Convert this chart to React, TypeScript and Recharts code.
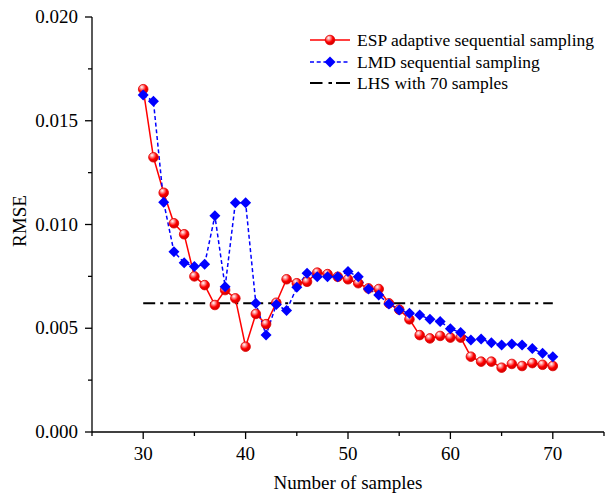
import React from 'react';
import { LineChart, Line, XAxis, YAxis } from 'recharts';

// number of samples (x) and RMSE values
const samples = [30, 31, 32, 33, 34, 35, 36, 37, 38, 39, 40, 41, 42, 43, 44, 45, 46, 47, 48, 49, 50,
  51, 52, 53, 54, 55, 56, 57, 58, 59, 60, 61, 62, 63, 64, 65, 66, 67, 68, 69, 70];

const espRmse = [0.01652, 0.01324, 0.01153, 0.01006, 0.00953, 0.0075, 0.00708, 0.00612, 0.00684, 0.00644,
  0.00411, 0.00569, 0.0052, 0.00623, 0.00736, 0.00717, 0.00724, 0.00768, 0.00761, 0.00748,
  0.00736, 0.00717, 0.00692, 0.00689, 0.0062, 0.0059, 0.00543, 0.00467, 0.00451, 0.00463,
  0.00455, 0.00455, 0.00363, 0.00339, 0.00339, 0.0031, 0.00328, 0.00318, 0.00332, 0.00324, 0.00318];

const lmdRmse = [0.01624, 0.01594, 0.01107, 0.00869, 0.00816, 0.00797, 0.00808, 0.01042, 0.007, 0.01105,
  0.01105, 0.0062, 0.00467, 0.00615, 0.00585, 0.00697, 0.00765, 0.00748, 0.00748, 0.00748,
  0.00773, 0.00748, 0.00689, 0.0066, 0.00617, 0.00588, 0.00572, 0.00564, 0.00543, 0.00532,
  0.00498, 0.00479, 0.00443, 0.00448, 0.0043, 0.00419, 0.00424, 0.00419, 0.00403, 0.00379, 0.00363];

const lhsSamples = [30, 70];
const lhsRmse = [0.0062, 0.0062];

const xTicks = [25, 30, 35, 40, 45, 50, 55, 60, 65, 70, 75];
const xLabels = [30, 40, 50, 60, 70];
const yTicks = [0, 0.0025, 0.005, 0.0075, 0.01, 0.0125, 0.015, 0.0175, 0.02];

const chartData = samples.map((s, i) => ({ samples: s, esp: espRmse[i], lmd: lmdRmse[i] }));
const lhsData = lhsSamples.map((s, i) => ({ samples: s, lhs: lhsRmse[i] }));

const FONT = '"Liberation Serif", "Times New Roman", serif';
const RED = '#ff0000';
const BLUE = '#0000ff';

const isMajorY = (v: number) => Math.abs(v * 200 - Math.round(v * 200)) < 1e-6;

function BottomTick({ x, y, payload }: any) {
  const v = payload.value;
  const major = xLabels.includes(v);
  return (
    <g>
      <line x1={x} x2={x} y1={y} y2={y + (major ? 7 : 4)} stroke="#000" strokeWidth={1.3} />
      {major && (
        <text x={x} y={y + 28} textAnchor="middle" fontFamily={FONT} fontSize={19} fill="#000">{v}</text>
      )}
    </g>
  );
}

function TopTick({ x, y, payload }: any) {
  const major = xLabels.includes(payload.value);
  return <line x1={x} x2={x} y1={y} y2={y + (major ? 7 : 4)} stroke="#000" strokeWidth={1.3} />;
}

function LeftTick({ x, y, payload }: any) {
  const v = payload.value;
  const major = isMajorY(v);
  return (
    <g>
      <line x1={x} x2={x - (major ? 7 : 4)} y1={y} y2={y} stroke="#000" strokeWidth={1.3} />
      {major && (
        <text x={x - 14} y={y + 6} textAnchor="end" fontFamily={FONT} fontSize={19} fill="#000">{v.toFixed(3)}</text>
      )}
    </g>
  );
}

function RightTick({ x, y, payload }: any) {
  const major = isMajorY(payload.value);
  return <line x1={x} x2={x - (major ? 7 : 4)} y1={y} y2={y} stroke="#000" strokeWidth={1.3} />;
}

function Ball({ cx, cy, r = 4.8 }: any) {
  return <circle cx={cx} cy={cy} r={r} fill="url(#espBall)" stroke="#e00000" strokeWidth={0.8} />;
}

function Diamond({ cx, cy, s = 5.5 }: any) {
  return <polygon points={`${cx},${cy - s} ${cx + s},${cy} ${cx},${cy + s} ${cx - s},${cy}`} fill={BLUE} />;
}

export default function App() {
  return (
    <div style={{ position: 'absolute', left: 0, top: 0, width: 606, height: 495, background: '#fff' }}>
      <LineChart width={606} height={495} data={chartData} margin={{ top: 17, right: 2, left: 0, bottom: 0 }}>
        <defs>
          <radialGradient id="espBall" cx="0.38" cy="0.32" r="0.7" fx="0.35" fy="0.28">
            <stop offset="0" stopColor="#ffffff" />
            <stop offset="0.25" stopColor="#ff9a9a" />
            <stop offset="0.6" stopColor="#ff0000" />
            <stop offset="1" stopColor="#c80000" />
          </radialGradient>
        </defs>
        <XAxis dataKey="samples" type="number" domain={[25, 75]} ticks={xTicks} interval={0}
          allowDataOverflow height={63} tickSize={0} tickMargin={0}
          axisLine={{ stroke: '#000', strokeWidth: 1.3 }} tickLine={false}
          tick={(p: any) => <BottomTick {...p} />} />
        <XAxis xAxisId="top" orientation="top" dataKey="samples" type="number" domain={[25, 75]}
          ticks={xTicks} interval={0} allowDataOverflow height={0} tickSize={0} tickMargin={0}
          axisLine={{ stroke: '#000', strokeWidth: 1.3 }} tickLine={false}
          tick={(p: any) => <TopTick {...p} />} />
        <YAxis type="number" domain={[0, 0.02]} ticks={yTicks} interval={0} allowDataOverflow
          width={92} tickSize={0} tickMargin={0}
          axisLine={{ stroke: '#000', strokeWidth: 1.3 }} tickLine={false}
          tick={(p: any) => <LeftTick {...p} />} />
        <YAxis yAxisId="right" orientation="right" type="number" domain={[0, 0.02]} ticks={yTicks}
          interval={0} allowDataOverflow width={0} tickSize={0} tickMargin={0}
          axisLine={{ stroke: '#000', strokeWidth: 1.3 }} tickLine={false}
          tick={(p: any) => <RightTick {...p} />} />
        <Line data={lhsData} dataKey="lhs" stroke="#000" strokeWidth={2} strokeDasharray="12 5 3 5"
          dot={false} activeDot={false} isAnimationActive={false} />
        <Line dataKey="esp" stroke={RED} strokeWidth={1.5}
          dot={(p: any) => <Ball key={`e${p.index}`} cx={p.cx} cy={p.cy} />}
          activeDot={false} isAnimationActive={false} />
        <Line dataKey="lmd" stroke={BLUE} strokeWidth={1.5} strokeDasharray="4 2.7"
          dot={(p: any) => <Diamond key={`l${p.index}`} cx={p.cx} cy={p.cy} />}
          activeDot={false} isAnimationActive={false} />
      </LineChart>
      <svg width={606} height={495} style={{ position: 'absolute', left: 0, top: 0, pointerEvents: 'none' }}>
        <text x={348} y={489} textAnchor="middle" fontFamily={FONT} fontSize={19} fill="#000">Number of samples</text>
        <text x={19} y={221} textAnchor="middle" dominantBaseline="central" transform="rotate(-90, 19, 221)"
          fontFamily={FONT} fontSize={19} fill="#000">RMSE</text>
        <g fontFamily={FONT} fontSize={17.5} fill="#000">
          <line x1={310} x2={350} y1={40} y2={40} stroke={RED} strokeWidth={1.5} />
          <Ball cx={330} cy={40} />
          <text x={357} y={46}>ESP adaptive sequential sampling</text>
          <line x1={310} x2={350} y1={62} y2={62} stroke={BLUE} strokeWidth={1.5} strokeDasharray="4 2.7" />
          <Diamond cx={330} cy={62} />
          <text x={357} y={68}>LMD sequential sampling</text>
          <line x1={310} x2={350} y1={83} y2={83} stroke="#000" strokeWidth={2} strokeDasharray="12.5 6 3.5 4 14" />
          <text x={357} y={89}>LHS with 70 samples</text>
        </g>
      </svg>
    </div>
  );
}
